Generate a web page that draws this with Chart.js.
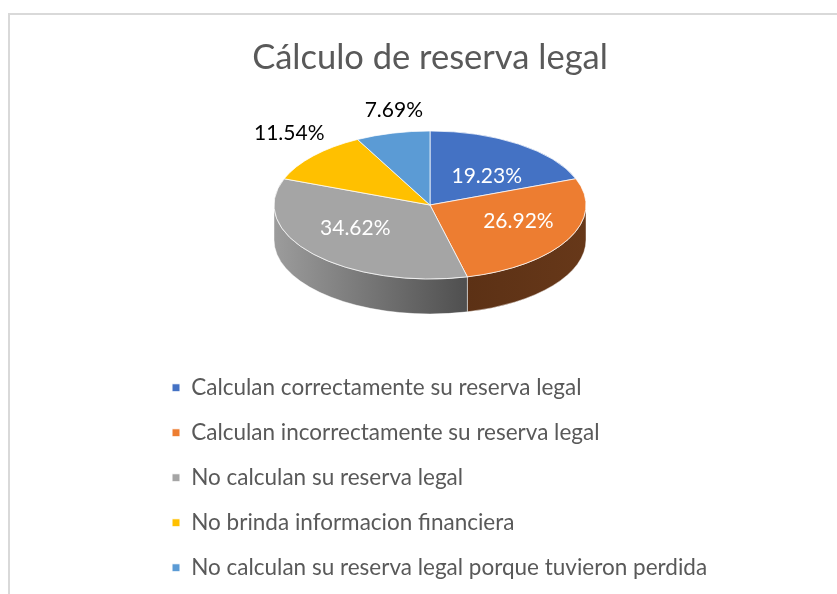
<!DOCTYPE html>
<html>

<head>
  <meta charset="utf-8">
  <title>Cálculo de reserva legal</title>
  <script src="https://cdn.jsdelivr.net/npm/chart.js@4.4.1/dist/chart.umd.min.js"></script>
  <style>
    html,
    body {
      margin: 0;
      padding: 0;
      background: #fff;
    }

    canvas {
      display: block;
    }
  </style>
</head>

<body>
  <canvas id="chartJSContainer" width="837" height="594"></canvas>
  <script>
    var labels = [
      'Calculan correctamente su reserva legal',
      'Calculan incorrectamente su reserva legal',
      'No calculan su reserva legal',
      'No brinda informacion financiera',
      'No calculan su reserva legal porque tuvieron perdida'
    ];
    var values = [19.23, 26.92, 34.62, 11.54, 7.69];
    var colors = ['#4472c4', '#ed7d31', '#a5a5a5', '#ffc000', '#5b9bd5'];
    // side wall colours (left -> right) for the 3d look
    var sideColors = [
      ['#2f528f', '#2f528f'],
      ['#5c3115', '#673819'],
      ['#9c9c9c', '#4f4f4f'],
      ['#bf9000', '#bf9000'],
      ['#2e75b6', '#2e75b6']
    ];

    var TILT = 74 / 156;
    var DEPTH = 35;

    // squash the pie into an ellipse and give it a side wall
    var pie3d = {
      id: 'pie3d',
      beforeDraw: function(chart) {
        var ctx = chart.ctx;
        ctx.save();
        ctx.strokeStyle = '#d9d9d9';
        ctx.lineWidth = 2;
        ctx.strokeRect(9, 14, 900, 700);
        ctx.restore();
      },
      beforeDatasetsDraw: function(chart) {
        var ctx = chart.ctx;
        var arcs = chart.getDatasetMeta(0).data;
        var cx = arcs[0].x, cy = arcs[0].y, R = arcs[0].outerRadius, r = R * TILT;
        var PI = Math.PI;
        arcs.forEach(function(arc, i) {
          [[0, PI], [2 * PI, 3 * PI], [-2 * PI, -PI]].forEach(function(win) {
            var s = Math.max(arc.startAngle, win[0]);
            var e = Math.min(arc.endAngle, win[1]);
            if (e <= s) return;
            var x0 = cx + R * Math.cos(e), x1 = cx + R * Math.cos(s);
            var g = ctx.createLinearGradient(Math.min(x0, x1), 0, Math.max(x0, x1), 0);
            g.addColorStop(0, sideColors[i][0]);
            g.addColorStop(1, sideColors[i][1]);
            ctx.save();
            ctx.beginPath();
            ctx.ellipse(cx, cy, R, r, 0, s, e, false);
            ctx.lineTo(cx + R * Math.cos(e), cy + r * Math.sin(e) + DEPTH);
            ctx.ellipse(cx, cy + DEPTH, R, r, 0, e, s, true);
            ctx.closePath();
            ctx.fillStyle = g;
            ctx.fill();
            ctx.strokeStyle = 'rgba(255,255,255,0.45)';
            ctx.lineWidth = 1;
            ctx.stroke();
            ctx.restore();
          });
        });
        ctx.save();
        ctx.translate(cx, cy);
        ctx.scale(1, TILT);
        ctx.translate(-cx, -cy);
      },
      afterDatasetsDraw: function(chart) {
        var ctx = chart.ctx;
        ctx.restore();
        var arcs = chart.getDatasetMeta(0).data;
        var cx = arcs[0].x, cy = arcs[0].y, R = arcs[0].outerRadius, r = R * TILT;
        ctx.save();
        ctx.font = '21px Lato';
        ctx.textAlign = 'center';
        ctx.textBaseline = 'middle';
        arcs.forEach(function(arc, i) {
          var mid = (arc.startAngle + arc.endAngle) / 2;
          var c = Math.cos(mid), s = Math.sin(mid);
          var text = values[i].toFixed(2) + '%';
          var x, y;
          if (values[i] > 15) {
            x = cx + R * 0.64 * c;
            y = cy + r * 0.48 * s;
            ctx.fillStyle = '#ffffff';
          } else {
            x = cx + R * c + c * Math.abs(c) * 50 + 4;
            y = cy + r * s - 23;
            ctx.fillStyle = '#000000';
          }
          ctx.fillText(text, x, y);
        });
        ctx.restore();
      }
    };

    var options = {
      type: 'pie',
      data: {
        labels: labels,
        datasets: [{
          data: values,
          backgroundColor: colors,
          borderColor: '#ffffff',
          borderWidth: 1,
          radius: 156,
          clip: false
        }]
      },
      options: {
        responsive: false,
        animation: false,
        events: [],
        layout: {
          padding: { top: 14, left: 149.5, right: 126.5, bottom: 5 }
        },
        plugins: {
          title: {
            display: true,
            text: 'Cálculo de reserva legal',
            color: '#595959',
            font: { family: 'Lato', size: 34.5, weight: 'normal', lineHeight: 1.2 },
            padding: { top: 23.3, bottom: 1.3 }
          },
          legend: {
            position: 'bottom',
            align: 'start',
            title: {
              display: true,
              text: '',
              font: { size: 10, lineHeight: 1 },
              padding: { top: 7, bottom: 7 }
            },
            labels: {
              boxWidth: 8,
              boxHeight: 8,
              padding: 22.5,
              color: '#595959',
              font: { family: 'Lato', size: 22.5 }
            }
          },
          tooltip: { enabled: false }
        }
      },
      plugins: [pie3d]
    };

    var ctx = document.getElementById('chartJSContainer').getContext('2d');
    window.test = new Chart(ctx, options);
  </script>
</body>

</html>
